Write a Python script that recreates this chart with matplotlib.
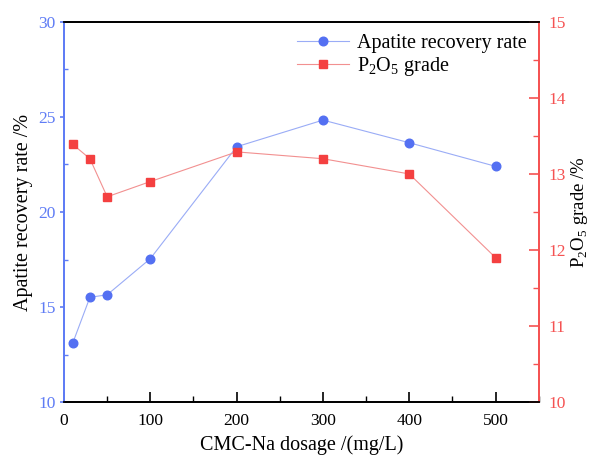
import matplotlib
matplotlib.use("Agg")
import matplotlib.pyplot as plt
from matplotlib.ticker import MultipleLocator

plt.rcParams['font.family'] = ['Liberation Serif', 'DejaVu Serif']
plt.rcParams['mathtext.fontset'] = 'custom'
plt.rcParams['mathtext.rm'] = 'Liberation Serif'

dosage = [10, 30, 50, 100, 200, 300, 400, 500]
recovery = [13.1, 15.52, 15.65, 17.55, 23.43, 24.83, 23.64, 22.4]
grade = [13.39, 13.2, 12.7, 12.9, 13.29, 13.2, 13.0, 11.9]

blue_axis = '#5f7cf5'
blue_mark = '#5470f2'
blue_line = '#9aacf6'
red_axis = '#f55252'
red_mark = '#f44040'
red_line = '#f29090'

fig = plt.figure(figsize=(5.89, 4.59), dpi=100)
ax = fig.add_axes([0.1087, 0.1235, 0.806, 0.8292])
ax2 = ax.twinx()

l1, = ax.plot(dosage, recovery, '-', color=blue_line, lw=0.8, marker='o',
              markersize=6.2, markerfacecolor=blue_mark, markeredgecolor=blue_mark,
              label='Apatite recovery rate')
l2, = ax2.plot(dosage, grade, '-', color=red_line, lw=0.8, marker='s',
               markersize=5.6, markerfacecolor=red_mark, markeredgecolor=red_mark,
               label='P$_2$O$_5$ grade')

ax.set_xlim(0, 550)
ax.set_ylim(10, 30)
ax2.set_ylim(10, 15)

ax.xaxis.set_major_locator(MultipleLocator(100))
ax.xaxis.set_minor_locator(MultipleLocator(50))
ax.yaxis.set_major_locator(MultipleLocator(5))
ax.yaxis.set_minor_locator(MultipleLocator(2.5))
ax2.yaxis.set_major_locator(MultipleLocator(1))
ax2.yaxis.set_minor_locator(MultipleLocator(0.5))

for a in (ax, ax2):
    for s in a.spines.values():
        s.set_linewidth(1.3)
ax.spines['left'].set_color(blue_axis)
ax2.spines['left'].set_color(blue_axis)
ax.spines['right'].set_color(red_axis)
ax2.spines['right'].set_color(red_axis)
ax.spines['top'].set_color('black')
ax.spines['bottom'].set_color('black')

ax.tick_params(axis='x', which='major', direction='in', length=7, width=1.2,
               labelsize=12.5, colors='black', pad=8)
ax.tick_params(axis='x', which='minor', direction='in', length=4, width=1.0)
ax.tick_params(axis='y', which='major', direction='out', length=3, width=1.2,
               labelsize=12.5, colors=blue_axis, pad=3)
ax.tick_params(axis='y', which='minor', direction='in', length=3, width=1.0,
               colors=blue_axis)
ax2.tick_params(axis='y', which='major', direction='in', length=7, width=1.2,
                labelsize=12.5, colors=red_axis, pad=7)
ax2.tick_params(axis='y', which='minor', direction='in', length=4, width=1.0,
                colors=red_axis)

ax.set_xlabel('CMC-Na dosage /(mg/L)', fontsize=14.5, color='black', labelpad=4)
ax.set_ylabel('Apatite recovery rate /%', fontsize=14.5, color='black', labelpad=4)
ax2.set_ylabel('P$_2$O$_5$ grade /%', fontsize=13.5, color='black', labelpad=2)

leg = ax.legend([l1, l2], ['Apatite recovery rate', 'P$_2$O$_5$ grade'],
                loc='upper right', bbox_to_anchor=(1.0, 1.0), frameon=False,
                fontsize=14.5, handlelength=2.6, handletextpad=0.4,
                labelspacing=0.1, borderaxespad=0.2)

fig.savefig('out.png', dpi=100)
